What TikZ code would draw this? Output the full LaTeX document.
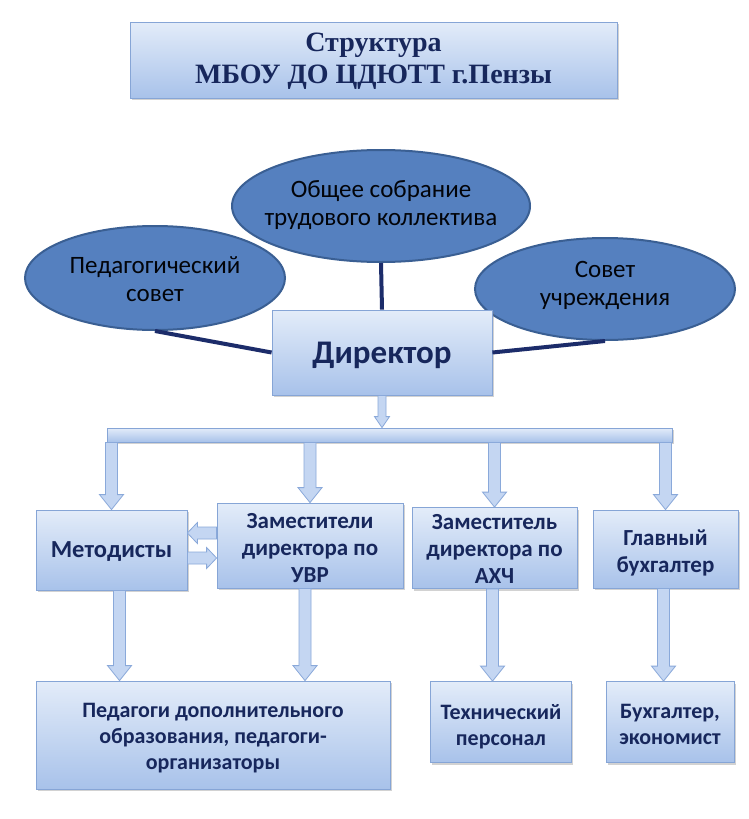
\documentclass[tikz,border=0pt]{standalone}
\usepackage{fontspec}
\setmainfont{Carlito}
\newfontfamily\titlefont{Liberation Serif}
\usetikzlibrary{calc,shapes.geometric,shadows}
\definecolor{boxtop}{HTML}{E3ECF9}
\definecolor{boxbot}{HTML}{A8C2EA}
\definecolor{boxline}{HTML}{86A5D6}
\definecolor{ellfill}{HTML}{5580BF}
\definecolor{ellline}{HTML}{3A5F93}
\definecolor{navy}{HTML}{17275C}
\definecolor{conn}{HTML}{1C2C6A}
\definecolor{arrfill}{HTML}{C4D6F2}
\definecolor{arrline}{HTML}{8AA9DA}
\newcommand\bx[2][4pt]{\raisebox{-#1}[\height][\depth]{\begin{tabular}{@{}c@{}}#2\end{tabular}}}
\newcommand\blockarrow[5]{%
  \coordinate (ba-h) at ($(#5)!#3!(#4)$);
  \draw[blockarr] ($(#4)!#1!90:(#5)$) -- ($(ba-h)!#1!90:(#5)$) -- ($(ba-h)!#2!90:(#5)$) -- (#5) -- ($(ba-h)!#2!-90:(#5)$) -- ($(ba-h)!#1!-90:(#5)$) -- ($(#4)!#1!-90:(#5)$) -- cycle;}
\tikzset{
  box/.style={draw=boxline, line width=0.8pt, top color=boxtop, bottom color=boxbot,
    drop shadow={shadow xshift=1.5pt, shadow yshift=-2pt, opacity=0.35},
    text=navy, inner sep=0pt, font=\bfseries\fontsize{23}{27}\selectfont},
  lowbox/.style={box, font=\bfseries\fontsize{22}{26}\selectfont},
  ell/.style={ellipse, draw=ellline, line width=2pt, fill=ellfill, inner sep=-40pt,
    text=black!90!navy, font=\fontsize{25}{28}\selectfont},
  conline/.style={draw=conn, line width=4pt},
  blockarr/.style={fill=arrfill, draw=arrline, line width=0.8pt, line join=miter}
}
\begin{document}
\begin{tikzpicture}[x=1pt, y=-1pt]
\useasboundingbox[fill=white] (0,0) rectangle (749,819);
% title
\node[box, minimum width=487pt, minimum height=76pt,
  font=\titlefont\bfseries\fontsize{28}{32}\selectfont] (title) at (373.5,60)
  {\bx[1pt]{Структура\\МБОУ ДО ЦДЮТТ г.Пензы}};
% councils
\node[ell, minimum width=298pt, minimum height=112pt] (obs) at (381,206)
  {\bx[0pt]{Общее собрание\\трудового коллектива}};
\node[ell, minimum width=260pt, minimum height=104pt] (ped) at (155,278)
  {\bx[4pt]{Педагогический\\совет}};
\node[ell, minimum width=260pt, minimum height=102pt] (sov) at (605,289)
  {\bx[-3pt]{Совет\\учреждения}};
% director
\node[box, minimum width=220pt, minimum height=85pt,
  font=\bfseries\fontsize{33}{38}\selectfont] (dir) at (382,352.5) {\bx[3pt]{Директор}};
\draw[conline] (ped.south) -- (dir.west);
\draw[conline] (obs.south) -- (dir.north);
\draw[conline] (sov.south) -- (dir.east);
% bar
\node[box, drop shadow={opacity=0}, minimum width=565pt, minimum height=14pt] (bar) at (389.5,435) {};
% row
\node[box, minimum width=151pt, minimum height=80pt,
  font=\bfseries\fontsize{24.5}{28}\selectfont] (met) at (111.5,550) {\bx[2pt]{Методисты}};
\node[box, minimum width=186pt, minimum height=85pt] (uvr) at (310,545.5)
  {\bx[5pt]{Заместители\\директора по\\УВР}};
\node[box, minimum width=165pt, minimum height=80pt] (axc) at (494.5,548)
  {\bx[3pt]{Заместитель\\директора по\\АХЧ}};
\node[box, minimum width=145pt, minimum height=78pt] (gb) at (665.5,549)
  {\bx[5pt]{Главный\\бухгалтер}};
% bottom
\node[lowbox, minimum width=354pt, minimum height=108pt] (pdo) at (213,735)
  {\bx[3pt]{Педагоги дополнительного\\образования, педагоги-\\организаторы}};
\node[lowbox, minimum width=141pt, minimum height=81pt] (tech) at (501,722)
  {\bx[5pt]{Технический\\персонал}};
\node[lowbox, minimum width=128pt, minimum height=81pt] (buh) at (670,722)
  {\bx[4pt]{Бухгалтер,\\экономист}};
% arrows
\coordinate (d1) at (dir.south |- bar.north);
\blockarrow{4pt}{7.5pt}{11pt}{dir.south}{d1}
\coordinate (b1) at (bar.south -| met.north);
\coordinate (b2) at (bar.south -| uvr.north);
\coordinate (b3) at (bar.south -| axc.north);
\coordinate (b4) at (bar.south -| gb.north);
\blockarrow{6pt}{12pt}{15pt}{b1}{met.north}
\blockarrow{6pt}{12pt}{15pt}{b2}{uvr.north}
\blockarrow{6pt}{12pt}{15pt}{b3}{axc.north}
\blockarrow{6pt}{12pt}{15pt}{b4}{gb.north}
\coordinate (la1) at ($(uvr.west)+(0,-12.5)$);
\coordinate (la2) at (la1 -| met.east);
\blockarrow{6pt}{10.5pt}{10pt}{la1}{la2}
\coordinate (ra1) at ($(met.east)+(0,8)$);
\coordinate (ra2) at (ra1 -| uvr.west);
\blockarrow{6pt}{10.5pt}{10pt}{ra1}{ra2}
\coordinate (m1) at ($(met.south)+(8,0)$);
\coordinate (m2) at (m1 |- pdo.north);
\blockarrow{6pt}{12pt}{15pt}{m1}{m2}
\coordinate (u1) at ($(uvr.south)+(-5,0)$);
\coordinate (u2) at (u1 |- pdo.north);
\blockarrow{6pt}{12pt}{15pt}{u1}{u2}
\coordinate (t1) at ($(axc.south)+(-2,0)$);
\coordinate (t2) at (t1 |- tech.north);
\blockarrow{6pt}{12pt}{15pt}{t1}{t2}
\coordinate (g1) at ($(gb.south)+(-2,0)$);
\coordinate (g2) at (g1 |- buh.north);
\blockarrow{6pt}{12pt}{15pt}{g1}{g2}
\end{tikzpicture}
\end{document}
